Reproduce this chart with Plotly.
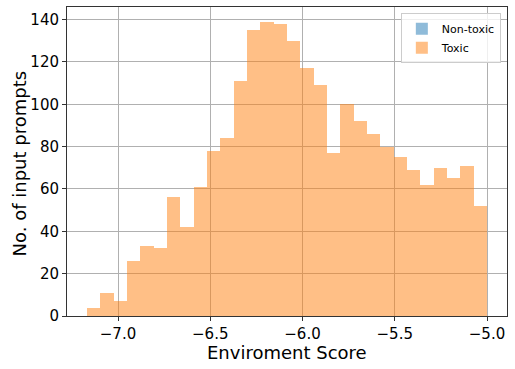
import numpy as np
import plotly.graph_objects as go

# histogram of environment scores, 30 equal bins
bin_start = -7.168
bin_end = -5.0
toxic_counts = [4, 11, 7, 26, 33, 32, 56, 42, 61, 78,
                84, 111, 135, 139, 138, 130, 117, 109, 77, 100,
                92, 86, 80, 75, 69, 62, 70, 65, 71, 52]
nontoxic_counts = [0] * 30
x_ticks = [-7.0, -6.5, -6.0, -5.5, -5.0]
y_ticks = [0, 20, 40, 60, 80, 100, 120, 140]

edges = np.linspace(bin_start, bin_end, len(toxic_counts) + 1)
centers = (edges[:-1] + edges[1:]) / 2
width = edges[1] - edges[0]

fig = go.Figure()
fig.add_trace(
    go.Bar(
        name="Non-toxic",
        x=centers,
        y=nontoxic_counts,
        width=width,
        marker=dict(color="rgba(31,119,180,0.5)", line=dict(width=0)),
    )
)
fig.add_trace(
    go.Bar(
        name="Toxic",
        x=centers,
        y=toxic_counts,
        width=width,
        marker=dict(color="rgba(255,127,14,0.5)", line=dict(width=0)),
    )
)

pad = 0.05 * (bin_end - bin_start)
axis_style = dict(
    showgrid=True,
    gridcolor="#b0b0b0",
    gridwidth=1,
    showline=True,
    linecolor="#333333",
    linewidth=1,
    mirror=True,
    ticks="outside",
    ticklen=4,
    tickcolor="#333333",
    zeroline=False,
    automargin=False,
    tickfont=dict(size=15, color="black"),
)

fig.update_layout(
    width=515,
    height=369,
    barmode="overlay",
    bargap=0,
    plot_bgcolor="white",
    paper_bgcolor="white",
    font=dict(family="DejaVu Sans", color="black"),
    margin=dict(l=67, r=8, t=7, b=53),
    legend=dict(
        x=0.986,
        y=0.98,
        xanchor="right",
        yanchor="top",
        bgcolor="rgba(255,255,255,0.8)",
        bordercolor="#cccccc",
        borderwidth=1,
        font=dict(size=11),
        itemwidth=30,
        tracegroupgap=0,
    ),
    annotations=[
        dict(
            text="Enviroment Score",
            xref="paper", yref="paper",
            x=0.5, y=-0.119,
            xanchor="center", yanchor="middle",
            showarrow=False,
            font=dict(size=18),
        ),
        dict(
            text="No. of input prompts",
            xref="paper", yref="paper",
            x=-0.109, y=0.494,
            xanchor="center", yanchor="middle",
            textangle=-90,
            showarrow=False,
            font=dict(size=18),
        ),
    ],
)
fig.update_xaxes(
    range=[bin_start - pad, bin_end + pad],
    tickvals=x_ticks,
    tickformat=".1f",
    **axis_style,
)
fig.update_yaxes(
    range=[0, max(toxic_counts) * 1.05],
    tickvals=y_ticks,
    **axis_style,
)

# drop the browser's default body margin so the figure sits at (0, 0)
fig.write_html(
    "out.html",
    config={"displayModeBar": False},
    post_script="document.body.style.margin='0px';",
)
